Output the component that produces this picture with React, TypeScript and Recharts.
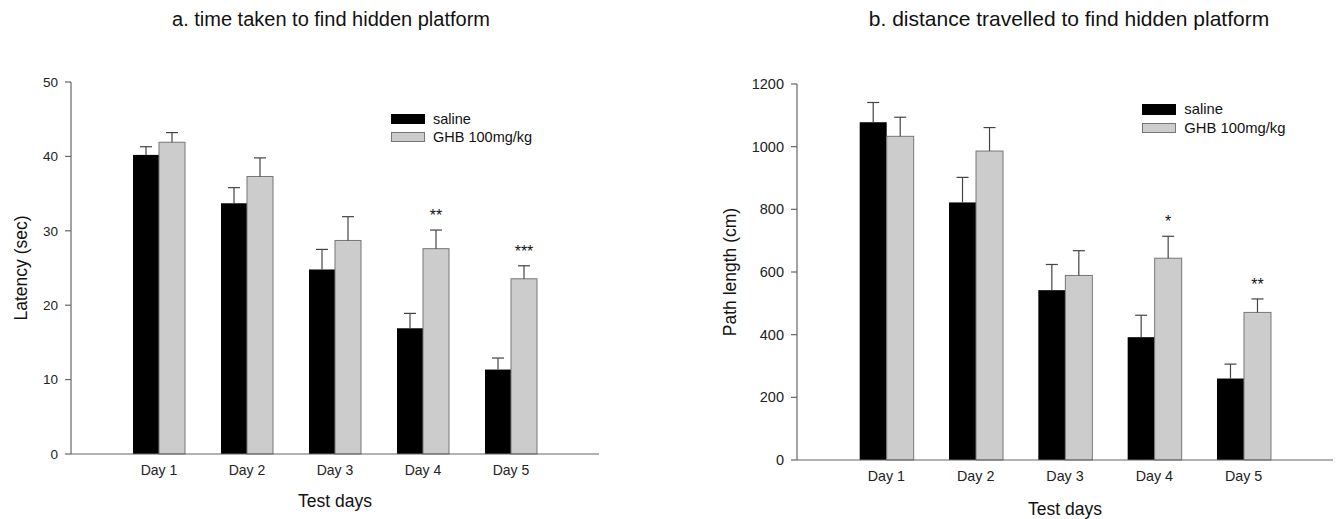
import React from 'react';
import { BarChart, Bar, XAxis, YAxis, Legend, LabelList, Label } from 'recharts';

const FONT = '"Liberation Sans", Arial, Helvetica, sans-serif';

const days = ['Day 1', 'Day 2', 'Day 3', 'Day 4', 'Day 5'];

const latencySaline = [40.2, 33.7, 24.8, 16.9, 11.35];
const latencySalineErr = [1.1, 2.1, 2.7, 2.0, 1.55];
const latencyGhb = [41.9, 37.3, 28.7, 27.6, 23.55];
const latencyGhbErr = [1.3, 2.5, 3.2, 2.5, 1.75];
const latencySig = ['', '', '', '**', '***'];
const latencyTicks = [0, 10, 20, 30, 40, 50];

const pathSaline = [1078, 822, 542, 392, 260];
const pathSalineErr = [63, 80, 82, 70, 46];
const pathGhb = [1033, 986, 589, 644, 471];
const pathGhbErr = [61, 75, 79, 70, 43];
const pathSig = ['', '', '', '*', '**'];
const pathTicks = [0, 200, 400, 600, 800, 1000, 1200];

const seriesNames = ['saline', 'GHB 100mg/kg'];

const latencyData = days.map((d, i) => ({
  day: d,
  saline: latencySaline[i],
  salineErr: latencySalineErr[i],
  ghb: latencyGhb[i],
  ghbErr: latencyGhbErr[i],
  sig: latencySig[i],
}));

const pathData = days.map((d, i) => ({
  day: d,
  saline: pathSaline[i],
  salineErr: pathSalineErr[i],
  ghb: pathGhb[i],
  ghbErr: pathGhbErr[i],
  sig: pathSig[i],
}));

const renderBarWithErr = (valueKey: string, errKey: string, fill: string, stroke: string) => (props: any) => {
  const { x, y, width, height, payload } = props;
  const v = payload[valueKey];
  const e = payload[errKey];
  const ratio = v ? height / v : 0;
  const top = y - e * ratio;
  const cx = x + width / 2;
  return (
    <g>
      <rect x={x} y={y} width={width} height={height} fill={fill} stroke={stroke} strokeWidth={stroke === 'none' ? 0 : 1} />
      <line x1={cx} y1={y} x2={cx} y2={top} stroke="#444" strokeWidth={1.2} />
      <line x1={cx - 6} y1={top} x2={cx + 6} y2={top} stroke="#444" strokeWidth={1.2} />
    </g>
  );
};

const renderSig = (values: number[], errs: number[]) => (props: any) => {
  const { x, y, width, height, value, index } = props;
  if (!value) return null;
  const v = values[index];
  const ratio = v ? height / v : 0;
  const top = y - errs[index] * ratio;
  return (
    <text x={x + width / 2} y={top - 9} textAnchor="middle" fontSize={16} fontFamily={FONT} fill="#111">
      {value}
    </text>
  );
};

const makeLegend = (fontSize: number, rectH: number, rowH: number, gap: number) => (props: any) => {
  const payload = [...(props.payload || [])].sort(
    (a: any, b: any) => seriesNames.indexOf(a.value) - seriesNames.indexOf(b.value)
  );
  return (
    <div style={{ fontFamily: FONT, fontSize, color: '#111' }}>
      {payload.map((p: any, i: number) => (
        <div key={i} style={{ display: 'flex', alignItems: 'center', height: rowH }}>
          <span
            style={{
              display: 'inline-block',
              boxSizing: 'border-box',
              width: 34,
              height: rectH,
              background: p.color,
              border: p.value === seriesNames[0] ? '1px solid #000' : '1px solid #777',
            }}
          />
          <span style={{ marginLeft: gap, whiteSpace: 'nowrap' }}>{p.value}</span>
        </div>
      ))}
    </div>
  );
};

const yLabel = (text: string, dx: number, fontSize: number) => (props: any) => {
  const vb = props.viewBox || { x: 0, y: 0, width: 0, height: 0 };
  const cx = vb.x + dx;
  const cy = vb.y + vb.height / 2;
  return (
    <text
      x={cx}
      y={cy}
      transform={`rotate(-90, ${cx}, ${cy})`}
      textAnchor="middle"
      dominantBaseline="central"
      fontSize={fontSize}
      fontFamily={FONT}
      fill="#111"
    >
      {text}
    </text>
  );
};

const xLabel = (text: string, dy: number, fontSize: number) => (props: any) => {
  const vb = props.viewBox || { x: 0, y: 0, width: 0, height: 0 };
  return (
    <text
      x={vb.x + vb.width / 2}
      y={vb.y + dy}
      textAnchor="middle"
      dominantBaseline="central"
      fontSize={fontSize}
      fontFamily={FONT}
      fill="#111"
    >
      {text}
    </text>
  );
};

export default function App() {
  return (
    <div style={{ position: 'absolute', left: 0, top: 0, width: 1339, height: 519, background: '#fff', fontFamily: FONT }}>
      <div style={{ position: 'absolute', left: 131, top: 9, width: 400, textAlign: 'center', fontSize: 20, lineHeight: '20px', color: '#111', whiteSpace: 'nowrap' }}>
        a. time taken to find hidden platform
      </div>
      <div style={{ position: 'absolute', left: 819, top: 8, width: 500, textAlign: 'center', fontSize: 21, lineHeight: '21px', color: '#111', whiteSpace: 'nowrap' }}>
        b. distance travelled to find hidden platform
      </div>

      <div style={{ position: 'absolute', left: 0, top: 0 }}>
        <BarChart width={660} height={519} data={latencyData} margin={{ top: 82, right: 61, bottom: 35, left: 11 }} barGap={0} barSize={26}>
          <XAxis
            dataKey="day"
            padding={{ left: 44, right: 44 }}
            height={30}
            tickLine={false}
            tickSize={6}
            tickMargin={5}
            axisLine={{ stroke: '#666', strokeWidth: 1.2 }}
            tick={{ fill: '#222', fontSize: 14, fontFamily: FONT }}
          >
            <Label content={xLabel('Test days', 47, 17.5)} />
          </XAxis>
          <YAxis
            width={60}
            domain={[0, 50]}
            ticks={latencyTicks}
            interval={0}
            tickSize={6}
            tickMargin={7}
            axisLine={{ stroke: '#666', strokeWidth: 1.2 }}
            tickLine={{ stroke: '#666', strokeWidth: 1.2 }}
            tick={{ fill: '#222', fontSize: 13.5, fontFamily: FONT }}
          >
            <Label content={yLabel('Latency (sec)', 9.5, 17.5)} />
          </YAxis>
          <Legend
            layout="vertical"
            align="center"
            verticalAlign="middle"
            wrapperStyle={{ left: 391, top: 110, width: 'auto', height: 'auto' }}
            content={makeLegend(14.5, 10.5, 18, 8)}
          />
          <Bar dataKey="saline" name={seriesNames[0]} fill="#000000" isAnimationActive={false} shape={renderBarWithErr('saline', 'salineErr', '#000000', 'none')} />
          <Bar dataKey="ghb" name={seriesNames[1]} fill="#cccccc" isAnimationActive={false} shape={renderBarWithErr('ghb', 'ghbErr', '#cccccc', '#777777')}>
            <LabelList dataKey="sig" content={renderSig(latencyGhb, latencyGhbErr)} />
          </Bar>
        </BarChart>
      </div>

      <div style={{ position: 'absolute', left: 670, top: 0 }}>
        <BarChart width={669} height={519} data={pathData} margin={{ top: 84, right: 6, bottom: 29, left: 67 }} barGap={0} barSize={27}>
          <XAxis
            dataKey="day"
            padding={{ left: 44.7, right: 44.7 }}
            height={30}
            tickLine={false}
            tickSize={6}
            tickMargin={5}
            axisLine={{ stroke: '#666', strokeWidth: 1.2 }}
            tick={{ fill: '#222', fontSize: 14.3, fontFamily: FONT }}
          >
            <Label content={xLabel('Test days', 48.5, 17.5)} />
          </XAxis>
          <YAxis
            width={60}
            domain={[0, 1200]}
            ticks={pathTicks}
            interval={0}
            tickSize={6}
            tickMargin={7}
            axisLine={{ stroke: '#666', strokeWidth: 1.2 }}
            tickLine={{ stroke: '#666', strokeWidth: 1.2 }}
            tick={{ fill: '#222', fontSize: 14.5, fontFamily: FONT }}
          >
            <Label content={yLabel('Path length (cm)', -7, 17.5)} />
          </YAxis>
          <Legend
            layout="vertical"
            align="center"
            verticalAlign="middle"
            wrapperStyle={{ left: 472, top: 100, width: 'auto', height: 'auto' }}
            content={makeLegend(14.8, 10.6, 18.6, 8.3)}
          />
          <Bar dataKey="saline" name={seriesNames[0]} fill="#000000" isAnimationActive={false} shape={renderBarWithErr('saline', 'salineErr', '#000000', 'none')} />
          <Bar dataKey="ghb" name={seriesNames[1]} fill="#cccccc" isAnimationActive={false} shape={renderBarWithErr('ghb', 'ghbErr', '#cccccc', '#777777')}>
            <LabelList dataKey="sig" content={renderSig(pathGhb, pathGhbErr)} />
          </Bar>
        </BarChart>
      </div>
    </div>
  );
}
